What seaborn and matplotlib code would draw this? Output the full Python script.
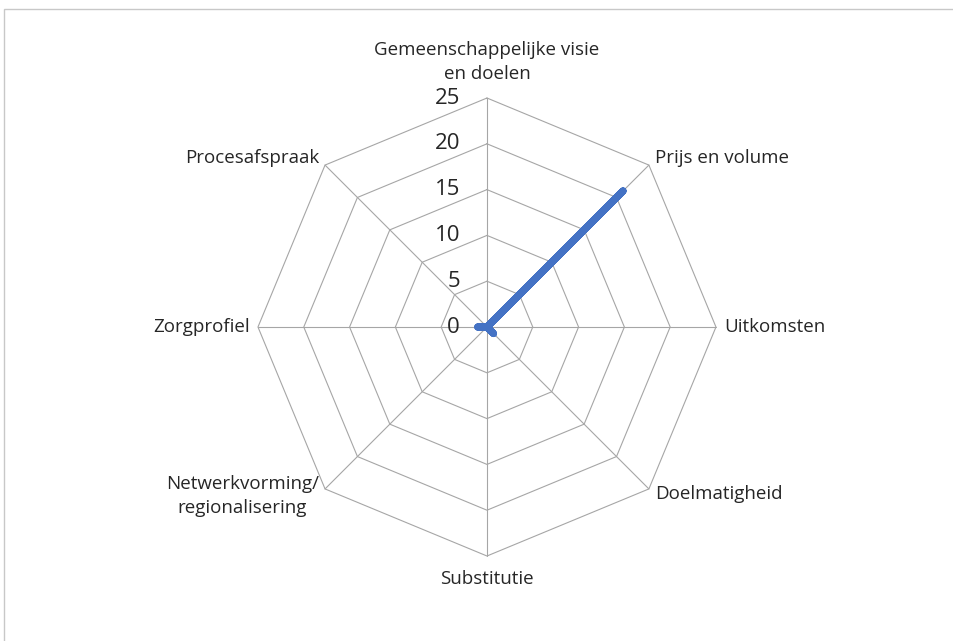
import numpy as np
import pandas as pd
import seaborn as sns
import matplotlib.pyplot as plt
from matplotlib.patches import Rectangle

# categorieën en waarden
categories = ['Gemeenschappelijke visie\nen doelen', 'Prijs en volume', 'Uitkomsten',
              'Doelmatigheid', 'Substitutie', 'Netwerkvorming/\nregionalisering',
              'Zorgprofiel', 'Procesafspraak']
values = [0, 21, 0, 1, 0, 0, 1, 0]
ticks = [0, 5, 10, 15, 20, 25]

sns.set_theme(style='white')
plt.rcParams['font.family'] = ['Open Sans', 'DejaVu Sans']

n = len(categories)
angles = np.linspace(0, 2 * np.pi, n, endpoint=False)
df = pd.DataFrame({'angle': np.append(angles, 2 * np.pi),
                   'value': values + values[:1]})

fig = plt.figure(figsize=(9.54, 6.41), dpi=100)
ax = fig.add_axes([0.2704, 0.1326, 0.4801, 0.7145], projection='polar')
ax.set_theta_zero_location('N')
ax.set_theta_direction(-1)
ax.set_ylim(0, ticks[-1])
ax.grid(False)
ax.spines['polar'].set_visible(False)
ax.set_xticks([])
ax.set_yticks([])
ax.patch.set_alpha(0)

grid_color = '#a6a6a6'
ring_angles = np.append(angles, 2 * np.pi)
for t in ticks[1:]:
    ax.plot(ring_angles, [t] * len(ring_angles), color=grid_color, lw=0.8, clip_on=False)
for a in angles:
    ax.plot([a, a], [0, ticks[-1]], color=grid_color, lw=0.8, clip_on=False)

sns.lineplot(data=df, x='angle', y='value', sort=False, estimator=None, ax=ax,
             color='#4472C4', lw=5.2, solid_capstyle='round', solid_joinstyle='round')
ax.set_xlabel('')
ax.set_ylabel('')

text_color = '#262626'
for t in ticks:
    ax.annotate(str(t), xy=(0, t), xytext=(-27, 0), textcoords='offset pixels',
                ha='right', va='center', fontsize=16, color=text_color)

# plaatsing van de categorielabels
label_pos = [
    ((0, 15), 'center', 'bottom'),
    ((6, 7), 'left', 'center'),
    ((8, 0), 'left', 'center'),
    ((6, -5), 'left', 'center'),
    ((0, -14), 'center', 'top'),
    ((-6, -7), 'right', 'center'),
    ((-8, 0), 'right', 'center'),
    ((-6, 7), 'right', 'center'),
]
for a, lab, (off, ha, va) in zip(angles, categories, label_pos):
    ax.annotate(lab, xy=(a, ticks[-1]), xytext=off, textcoords='offset pixels',
                ha=ha, va=va, fontsize=13.5, color=text_color, multialignment='center',
                linespacing=1.45, annotation_clip=False)

fig.patches.append(Rectangle((4 / 954, -0.1), 1.2, (641 - 9) / 641 + 0.1,
                             transform=fig.transFigure, fill=False,
                             edgecolor='#c8c8c8', lw=1))

fig.savefig('out.png', dpi=100)
